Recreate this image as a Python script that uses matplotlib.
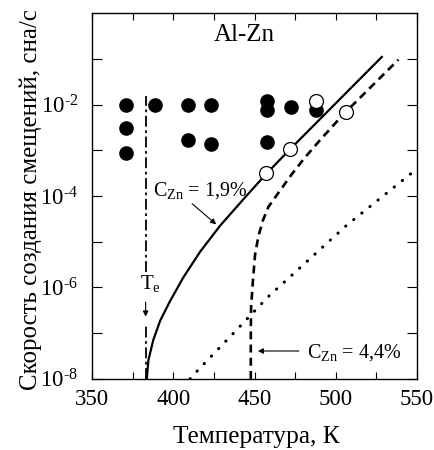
import matplotlib
matplotlib.use("Agg")
import matplotlib.pyplot as plt
import numpy as np
from matplotlib.ticker import NullFormatter

plt.rcParams["font.family"] = ["Liberation Serif", "DejaVu Serif"]
plt.rcParams["mathtext.fontset"] = "custom"
plt.rcParams["mathtext.rm"] = "Liberation Serif"
plt.rcParams["mathtext.it"] = "Liberation Serif:italic"

# experimental points (T in K, rate in dpa/s)
filled_T = [371, 371, 371, 389, 409, 423, 409, 423, 457.5, 457.5, 457.5, 472.5, 488]
filled_y = [1.0e-2, 3.0e-3, 8.7e-4, 1.0e-2, 1.0e-2, 1.0e-2, 1.66e-3, 1.35e-3,
            1.2e-2, 7.5e-3, 1.5e-3, 8.9e-3, 7.5e-3]
open_T = [457.1, 471.8, 488, 506.3]
open_y = [3.2e-4, 1.05e-3, 1.2e-2, 6.8e-3]

# C_Zn = 1.9 % curve (log10 of rate)
c19_T = [383.7, 384.7, 387.7, 391.9, 398.0, 406.2, 416.5, 428.8,
         444.2, 457.1, 471.8, 528.3]
c19_logy = [-8.0, -7.59, -7.15, -6.73, -6.30, -5.78, -5.22, -4.65,
            -4.03, -3.52, -2.98, -0.96]

# C_Zn = 4.4 % curve
c44_T = [447.7, 447.7, 447.9, 448.9, 450.3, 452.3, 455.2, 458.5, 465.7,
         473.0, 481.0, 490.0, 504.5, 538.5]
c44_logy = [-8.0, -6.93, -6.43, -5.90, -5.29, -4.89, -4.53, -4.24, -3.88,
            -3.52, -3.16, -2.79, -2.22, -1.02]

# dotted curve
dot_T = [410.3, 414.4, 440.0, 458.5, 506.7, 547.7]
dot_logy = [-8.0, -7.84, -6.89, -6.20, -4.64, -3.47]

T_E = 383.0

fig = plt.figure(figsize=(4.34, 4.5), dpi=100)
ax = fig.add_axes([0.212, 0.158, 0.749, 0.813])

ax.plot(c19_T, 10.0 ** np.array(c19_logy), color="black", lw=1.6)
ax.plot(c44_T, 10.0 ** np.array(c44_logy), color="black", lw=1.9,
        ls=(0, (3.0, 2.0)))
ax.plot(dot_T, 10.0 ** np.array(dot_logy), color="black", lw=2.2,
        ls=(0, (0.1, 3.3)), dash_capstyle="round")

# T_e line, broken around its label
te_style = dict(color="black", lw=1.3, ls=(0, (6, 2, 1.5, 2)))
ax.plot([T_E, T_E], [1e-8, 10 ** -6.82], **te_style)
ax.plot([T_E, T_E], [10 ** -5.66, 10 ** -1.82], **te_style)
ax.annotate("", xy=(T_E, 10 ** -6.70), xytext=(T_E, 10 ** -6.26),
            arrowprops=dict(arrowstyle="-|>", color="black", lw=0.8,
                            mutation_scale=8))
ax.text(379.5, 10 ** -6.03, r"T$_{\rm e}$", fontsize=15, ha="left", va="baseline")

ax.plot(filled_T, filled_y, "o", color="black", ms=9.5, zorder=3)
ax.plot(open_T, open_y, "o", mfc="white", mec="black", mew=0.9, ms=10, zorder=4)

ax.annotate("", xy=(427.7, 10 ** -4.66), xytext=(410.3, 10 ** -4.13),
            arrowprops=dict(arrowstyle="-|>", color="black", lw=0.8,
                            mutation_scale=8))
ax.text(387.3, 10 ** -3.99, r"C$_{\rm Zn}$ = 1,9%", fontsize=14.5,
        ha="left", va="baseline")

ax.annotate("", xy=(450.3, 10 ** -7.39), xytext=(479, 10 ** -7.39),
            arrowprops=dict(arrowstyle="-|>", color="black", lw=0.8,
                            mutation_scale=8))
ax.text(482.1, 10 ** -7.54, r"C$_{\rm Zn}$ = 4,4%", fontsize=14.5,
        ha="left", va="baseline")

ax.text(424.7, 10 ** -0.62, "Al-Zn", fontsize=18, ha="left", va="baseline")

ax.set_yscale("log")
ax.set_xlim(350, 550)
ax.set_ylim(1e-8, 1e0)
ax.set_xticks([350, 400, 450, 500, 550])
ax.set_xticks([375, 425, 475, 525], minor=True)
ax.set_yticks([1e-8, 1e-6, 1e-4, 1e-2])
ax.set_yticklabels([r"10$^{\text{-8}}$", r"10$^{\text{-6}}$",
                    r"10$^{\text{-4}}$", r"10$^{\text{-2}}$"])
ax.set_yticks([1e-7, 1e-5, 1e-3, 1e-1], minor=True)
ax.yaxis.set_minor_formatter(NullFormatter())
ax.tick_params(which="both", direction="in", top=True, right=True,
               labelsize=16.5, width=0.8)
ax.tick_params(axis="x", which="both", length=5, pad=7)
ax.tick_params(axis="y", which="both", length=7, pad=10)
for s in ax.spines.values():
    s.set_linewidth(1.0)

ax.set_xlabel("Температура, К", fontsize=18.3)
ax.set_ylabel("Скорость создания смещений, сна/с", fontsize=17.9)
ax.xaxis.set_label_coords(0.505, -0.128)
ax.yaxis.set_label_coords(-0.154, 0.489)

fig.savefig("out.png", dpi=100)
